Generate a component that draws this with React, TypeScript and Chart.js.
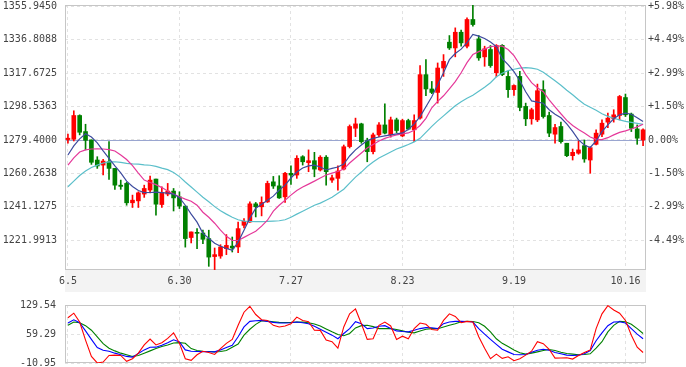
import React, { useEffect, useRef } from 'react';
import { Chart, registerables } from 'chart.js';

Chart.register(...registerables);

// ---------- data ----------
const dates = [
  '6.5','6.6','6.7','6.8','6.9','6.12','6.13','6.14','6.15','6.16','6.19','6.20','6.21','6.22','6.23','6.26','6.27','6.28','6.29','6.30',
  '7.3','7.4','7.5','7.6','7.7','7.10','7.11','7.12','7.13','7.14','7.17','7.18','7.19','7.20','7.21','7.24','7.25','7.26','7.27','7.28','7.31',
  '8.1','8.2','8.3','8.4','8.7','8.8','8.9','8.10','8.11','8.14','8.15','8.16','8.17','8.18','8.21','8.22','8.23','8.24','8.25','8.28','8.29','8.30','8.31',
  '9.1','9.4','9.5','9.6','9.7','9.8','9.11','9.12','9.13','9.14','9.15','9.18','9.19','9.20','9.21','9.22','9.25','9.26','9.27','9.28','9.29',
  '10.2','10.3','10.4','10.5','10.6','10.9','10.10','10.11','10.12','10.13','10.16','10.17','10.18','10.19'
];

const openP = [
  1279.6,1279.8,1293.4,1284.2,1279.4,1267.9,1265.0,1266.9,1263.1,1253.5,
  1254.5,1243.4,1244.5,1248.4,1250.7,1257.0,1242.4,1248.4,1250.1,1246.8,
  1241.5,1223.5,1226.3,1226.1,1222.9,1212.6,1212.9,1217.1,1218.6,1218.1,
  1230.5,1232.4,1242.8,1241.1,1243.9,1255.4,1253.1,1246.8,1260.3,1259.3,
  1269.8,1266.4,1267.5,1262.2,1269.5,1256.4,1257.4,1262.7,1275.6,1286.1,
  1288.6,1279.0,1272.7,1282.3,1288.0,1282.3,1290.9,1281.7,1290.5,1285.2,
  1291.9,1316.8,1308.6,1306.6,1320.6,1335.4,1332.1,1341.1,1333.1,1348.4,
  1337.3,1327.0,1331.2,1317.9,1333.6,1315.8,1308.2,1315.8,1298.6,1291.5,
  1290.9,1308.2,1293.4,1282.7,1287.1,1277.5,1270.4,1271.8,1276.1,1267.9,
  1276.9,1282.7,1289.6,1291.5,1293.4,1303.7,1294.2,1285.7,1279.4
];
const highP = [
  1282.7,1296.1,1293.8,1288.4,1279.4,1269.8,1268.3,1278.4,1263.1,1256.4,
  1255.1,1247.8,1249.7,1253.5,1258.7,1257.0,1252.5,1254.5,1251.6,1249.7,
  1241.5,1226.7,1228.6,1227.7,1227.7,1217.5,1219.4,1225.2,1223.8,1232.4,
  1234.4,1243.9,1243.6,1246.8,1255.8,1258.5,1258.9,1260.8,1264.6,1270.4,
  1270.4,1273.7,1272.3,1270.4,1270.4,1259.3,1264.6,1276.5,1288.0,1291.9,
  1289.0,1280.4,1283.3,1289.4,1300.1,1292.5,1291.9,1291.3,1291.3,1293.8,
  1322.0,1325.4,1312.9,1323.5,1328.3,1339.2,1343.6,1342.3,1349.4,1356.5,
  1339.2,1333.1,1333.5,1334.0,1334.0,1318.7,1311.0,1318.7,1300.5,1297.6,
  1311.4,1313.3,1295.3,1288.4,1289.6,1277.5,1274.2,1278.8,1279.4,1275.5,
  1285.2,1290.9,1294.8,1296.7,1304.9,1305.7,1294.8,1288.0,1285.7
];
const lowP = [
  1277.5,1278.8,1282.3,1273.7,1265.4,1263.1,1259.3,1256.8,1251.1,1251.1,
  1242.0,1240.7,1240.7,1246.5,1249.1,1236.3,1240.7,1247.4,1238.7,1240.1,
  1218.0,1220.4,1217.1,1220.0,1207.0,1204.9,1211.6,1213.7,1215.2,1214.8,
  1229.0,1232.1,1235.3,1235.9,1243.6,1251.6,1245.9,1243.6,1253.9,1257.4,
  1265.0,1261.2,1258.3,1261.6,1253.5,1255.1,1250.7,1262.2,1274.8,1281.3,
  1277.5,1266.9,1271.4,1281.3,1282.9,1281.0,1283.6,1281.3,1285.2,1278.4,
  1291.3,1304.7,1305.9,1300.5,1315.8,1331.2,1327.0,1333.1,1332.1,1344.6,
  1325.0,1321.6,1321.0,1315.5,1316.2,1303.7,1304.9,1296.1,1287.6,1288.4,
  1289.9,1291.9,1281.3,1277.5,1277.5,1269.8,1267.9,1271.2,1266.6,1260.3,
  1276.5,1281.3,1286.5,1289.6,1290.9,1292.8,1284.2,1276.9,1276.1
];
const closeP = [
  1280.4,1293.4,1283.8,1279.2,1266.6,1264.5,1267.3,1263.1,1253.5,1252.8,
  1243.4,1244.9,1249.1,1251.6,1256.4,1242.6,1249.3,1250.1,1246.2,1241.5,
  1222.9,1226.7,1225.9,1222.5,1212.3,1213.7,1218.1,1219.0,1217.5,1228.6,
  1232.8,1242.8,1241.1,1243.6,1254.5,1253.0,1246.2,1260.3,1259.3,1268.9,
  1266.9,1267.5,1262.7,1269.5,1261.2,1257.7,1261.6,1275.5,1287.1,1288.6,
  1278.4,1272.7,1282.3,1288.0,1283.3,1290.9,1284.8,1290.5,1285.6,1290.5,
  1316.8,1308.6,1306.6,1320.6,1324.4,1332.1,1341.1,1335.0,1348.4,1345.5,
  1326.4,1331.6,1322.0,1333.5,1316.8,1308.2,1310.6,1298.0,1291.5,1296.7,
  1307.6,1292.8,1283.3,1286.5,1278.4,1270.4,1272.3,1273.7,1268.5,1275.0,
  1283.3,1289.0,1291.9,1293.8,1304.3,1293.8,1286.1,1280.4,1285.2
];

const ma5 = [
  1270.8,1276.0,1280.0,1282.9,1281.1,1277.7,1273.1,1268.8,1264.5,1260.5,
  1255.8,1252.7,1250.4,1249.2,1249.3,1249.5,1249.2,1248.9,1248.4,1246.3,
  1242.0,1236.9,1232.3,1225.9,1223.1,1220.2,1218.5,1217.3,1216.2,1220.9,
  1227.7,1234.6,1240.3,1242.6,1244.9,1247.2,1250.7,1253.5,1257.6,1261.0,
  1263.3,1264.5,1265.0,1263.9,1262.2,1263.1,1263.9,1265.6,1270.2,1273.7,
  1276.5,1279.1,1280.3,1281.1,1281.7,1282.3,1282.9,1283.4,1285.4,1288.6,
  1292.8,1298.4,1304.1,1311.0,1317.9,1325.4,1328.9,1331.4,1335.2,1339.8,
  1338.9,1337.5,1335.5,1332.9,1326.0,1322.5,1318.5,1313.3,1307.0,1301.8,
  1301.1,1300.4,1296.7,1294.1,1292.1,1288.6,1284.3,1279.4,1276.5,1275.1,
  1278.8,1284.2,1288.0,1291.5,1293.8,1294.8,1294.1,1292.1,1289.9
];
const ma10 = [
  1265.0,1269.1,1272.5,1273.7,1274.2,1274.3,1274.2,1273.9,1273.1,1270.8,
  1268.2,1264.7,1260.4,1256.4,1255.0,1253.8,1252.1,1250.1,1248.4,1246.9,
  1245.5,1244.3,1242.0,1238.0,1235.1,1231.7,1227.7,1224.2,1221.9,1221.8,
  1223.6,1225.4,1227.1,1230.0,1233.4,1238.6,1242.0,1244.9,1247.8,1250.4,
  1252.4,1254.1,1255.8,1257.6,1259.3,1260.4,1261.3,1262.7,1266.2,1269.1,
  1271.9,1274.8,1276.8,1278.8,1280.3,1281.4,1282.3,1282.9,1283.4,1284.9,
  1287.7,1291.8,1297.8,1301.5,1304.7,1308.7,1312.8,1317.9,1323.7,1328.3,
  1330.0,1331.4,1332.9,1333.2,1333.1,1331.2,1327.7,1322.5,1316.8,1312.2,
  1309.3,1307.0,1302.4,1298.4,1294.4,1290.6,1287.7,1285.4,1283.4,1281.1,
  1279.7,1279.6,1280.7,1282.3,1283.7,1284.6,1285.7,1286.9,1288.4
];
const ma20 = [
  1252.6,1255.8,1259.0,1261.6,1263.6,1265.0,1266.2,1266.8,1266.9,1266.6,
  1266.0,1265.7,1265.5,1265.1,1264.9,1264.3,1263.3,1262.4,1260.7,1258.4,
  1255.3,1252.4,1249.5,1246.6,1244.0,1241.2,1238.9,1236.9,1235.1,1233.7,
  1232.9,1232.7,1232.6,1232.6,1232.7,1232.9,1233.1,1233.7,1235.1,1236.9,
  1238.6,1240.3,1242.0,1243.2,1244.9,1246.6,1248.9,1251.2,1254.7,1258.1,
  1261.0,1264.2,1266.8,1269.1,1270.8,1272.5,1274.2,1275.4,1276.8,1278.3,
  1280.3,1283.7,1287.2,1290.3,1293.2,1296.1,1299.0,1301.3,1303.3,1305.0,
  1307.3,1309.6,1312.2,1315.6,1317.6,1319.1,1319.9,1320.5,1320.8,1320.5,
  1319.9,1318.2,1315.8,1313.3,1310.7,1307.9,1305.3,1302.4,1299.8,1298.1,
  1296.4,1294.4,1292.9,1291.8,1290.9,1290.0,1289.5,1288.9,1288.3
];

const jLine = [
  98.6,109.7,88.3,44.6,4.9,-10.9,-8.6,7.3,8.1,7.3,
  -7.0,-0.6,12.9,32.7,47.0,32.7,38.3,48.6,62.1,36.7,
  -0.6,-4.6,8.9,17.6,14.5,9.7,24.0,36.7,46.2,80.3,
  112.1,126.4,106.5,93.8,92.2,80.3,76.4,78.8,84.3,100.2,
  92.2,89.1,68.4,68.0,44.6,40.6,24.8,76.4,108.1,120.0,
  84.3,46.2,47.8,80.3,88.3,78.8,46.2,54.1,47.8,72.4,
  85.9,82.7,70.0,68.4,92.2,108.1,101.8,86.7,89.9,88.3,
  52.5,24.8,-0.6,10.5,0.2,4.1,-5.4,-0.6,8.1,17.6,
  40.6,35.9,22.4,0.9,1.2,1.7,-1.4,7.3,14.5,20.8,
  72.4,108.1,127.9,117.6,109.7,92.2,56.5,27.2,14.5
];
const kLine = [
  85.9,93.8,86.7,66.8,46.2,26.4,20.0,17.6,12.9,8.9,
  5.0,3.3,12.1,20.8,27.2,27.4,31.9,38.3,45.4,39.9,
  20.8,17.5,16.9,16.5,16.3,16.0,20.8,26.4,31.9,52.5,
  76.4,89.9,91.4,92.2,89.9,87.5,85.9,86.1,86.7,88.3,
  86.7,84.3,78.0,70.8,63.7,56.5,47.8,60.5,72.4,89.1,
  84.3,72.4,74.0,78.0,79.5,72.4,66.8,65.2,64.5,68.4,
  72.4,74.8,74.6,72.4,84.3,88.3,89.9,90.1,89.7,88.3,
  72.4,58.9,46.2,34.3,22.4,16.0,9.7,8.9,9.7,15.2,
  20.0,22.4,20.0,14.5,11.3,8.1,7.3,8.1,11.3,19.2,
  43.0,62.1,79.5,88.3,89.1,85.9,72.4,58.9,47.8
];
const dLine = [
  80.3,88.3,86.7,79.5,68.4,52.5,35.9,24.8,18.4,12.9,
  8.9,5.0,7.3,12.9,18.4,24.0,28.8,32.7,37.5,38.3,
  36.7,24.0,19.2,17.6,16.8,16.0,16.8,19.2,27.2,35.1,
  56.5,70.8,82.7,91.4,90.6,89.1,87.5,87.3,87.5,88.3,
  88.1,86.7,83.5,78.8,71.6,64.5,58.1,55.0,60.5,74.0,
  79.5,80.3,77.2,72.4,72.6,72.2,70.0,66.8,63.7,62.1,
  66.8,70.8,72.4,72.2,76.4,80.3,84.3,89.1,89.9,89.7,
  86.7,78.0,64.5,47.8,36.7,28.8,20.8,13.7,10.5,12.9,
  16.0,19.2,21.6,19.2,15.2,12.1,10.5,8.9,9.7,11.3,
  24.8,40.6,64.5,80.3,89.9,89.1,82.7,72.4,60.5
];

const prevClose = 1279.4;
const priceMin = 1204.9;
const priceMax = 1356.7;
const priceTicks = [1221.9913, 1241.1275, 1260.2638, 1279.4, 1298.5363, 1317.6725, 1336.8088, 1355.945];
const priceTickLabels = ['1221.9913', '1241.1275', '1260.2638', '1279.4000', '1298.5363', '1317.6725', '1336.8088', '1355.9450'];
const pctTickLabels = ['-4.49%', '-2.99%', '-1.50%', '0.00%', '+1.50%', '+2.99%', '+4.49%', '+5.98%'];
const xTickDates = ['6.5', '6.30', '7.27', '8.23', '9.19', '10.16'];
const kdjMin = -10.95;
const kdjMax = 129.54;
const kdjTicks = [-10.95, 59.29, 129.54];
const kdjTickLabels = ['-10.95', '59.29', '129.54'];

// ---------- style ----------
const UP = '#ff0000';
const DOWN = '#008000';
const GRID = '#e2e2e2';
const FRAME = '#c6c6c6';
const BASE = '#9aa6d0';
const TEXT = '#444444';
const FONT = { family: 'DejaVu Sans Mono', size: 10 };

const framePlugin = {
  id: 'frame',
  beforeDraw(chart: any, _a: any, opts: any) {
    const { ctx, chartArea: a } = chart;
    if (opts && opts.strip) {
      ctx.save();
      ctx.fillStyle = '#f3f3f3';
      ctx.fillRect(a.left, a.bottom, a.right - a.left, opts.strip);
      ctx.restore();
    }
  },
  beforeDatasetsDraw(chart: any, _a: any, opts: any) {
    const { ctx, chartArea: a } = chart;
    ctx.save();
    if (opts && opts.base !== undefined) {
      const y = Math.round(chart.scales.y.getPixelForValue(opts.base)) + 0.5;
      ctx.strokeStyle = BASE;
      ctx.lineWidth = 1;
      ctx.beginPath();
      ctx.moveTo(a.left, y);
      ctx.lineTo(a.right, y);
      ctx.stroke();
    }
    ctx.strokeStyle = FRAME;
    ctx.lineWidth = 1;
    ctx.strokeRect(a.left + 0.5, a.top + 0.5, a.right - a.left - 1, a.bottom - a.top - 1);
    ctx.restore();
  },
};

const xGridColor = (c: any) => (xTickDates.includes(dates[c.index]) ? GRID : 'rgba(0,0,0,0)');
const fixWidth = (w: number) => (s: any) => {
  s.width = w;
  s.paddingTop = 0;
  s.paddingBottom = 0;
};
const fixHeight = (h: number) => (s: any) => {
  s.height = h;
  s.paddingLeft = 0;
  s.paddingRight = 0;
};

export default function App() {
  const mainRef = useRef<HTMLCanvasElement | null>(null);
  const subRef = useRef<HTMLCanvasElement | null>(null);

  useEffect(() => {
    const colors = dates.map((_, i) => (closeP[i] >= openP[i] ? UP : DOWN));
    const bodies = dates.map((_, i) => [openP[i], closeP[i]]);
    const wicks = dates.map((_, i) => [lowP[i], highP[i]]);

    const main = new Chart(mainRef.current as HTMLCanvasElement, {
      type: 'bar',
      data: {
        labels: dates,
        datasets: [
          { type: 'line', data: ma5, borderColor: '#3d4b9e', borderWidth: 1.2, pointRadius: 0, tension: 0, order: 0 } as any,
          { type: 'line', data: ma10, borderColor: '#e5399a', borderWidth: 1.2, pointRadius: 0, tension: 0, order: 0 } as any,
          { type: 'line', data: ma20, borderColor: '#5bbfca', borderWidth: 1.2, pointRadius: 0, tension: 0, order: 0 } as any,
          { type: 'bar', data: bodies, backgroundColor: colors, borderWidth: 0, barThickness: 4, minBarLength: 1, grouped: false, order: 1 } as any,
          { type: 'bar', data: wicks, backgroundColor: colors, borderWidth: 0, barThickness: 1, grouped: false, order: 2 } as any,
        ],
      },
      options: {
        responsive: false,
        animation: false,
        events: [],
        layout: { padding: { top: 5, bottom: 0, left: 0, right: 0 }, autoPadding: false },
        plugins: {
          legend: { display: false },
          tooltip: { enabled: false },
          frame: { strip: 22, base: prevClose },
        } as any,
        scales: {
          x: {
            offset: true,
            grid: { offset: false, drawTicks: false, color: xGridColor, lineWidth: 1 },
            border: { display: false, dash: [3, 3] },
            ticks: {
              autoSkip: false,
              maxRotation: 0,
              minRotation: 0,
              padding: 5,
              color: TEXT,
              font: FONT,
              callback: (_v: any, i: number) => (xTickDates.includes(dates[i]) ? dates[i] : ''),
            },
            afterFit: fixHeight(26),
          },
          y: {
            position: 'left',
            min: priceMin,
            max: priceMax,
            afterBuildTicks: (s: any) => { s.ticks = priceTicks.map((v) => ({ value: v })); },
            grid: { drawTicks: false, color: GRID, lineWidth: 1 },
            border: { display: false, dash: [3, 3] },
            ticks: { padding: 8, color: TEXT, font: FONT, autoSkip: false, callback: (_v: any, i: number) => priceTickLabels[i] },
            afterFit: fixWidth(65),
          },
          y2: {
            position: 'right',
            min: priceMin,
            max: priceMax,
            afterBuildTicks: (s: any) => { s.ticks = priceTicks.map((v) => ({ value: v })); },
            grid: { display: false, drawTicks: false },
            border: { display: false },
            ticks: { padding: 2, color: TEXT, font: FONT, autoSkip: false, callback: (_v: any, i: number) => pctTickLabels[i] },
            afterFit: fixWidth(40),
          },
        } as any,
      },
      plugins: [framePlugin],
    });

    const sub = new Chart(subRef.current as HTMLCanvasElement, {
      type: 'line',
      data: {
        labels: dates,
        datasets: [
          { data: jLine, borderColor: '#ff0000', borderWidth: 1.1, pointRadius: 0, tension: 0 },
          { data: kLine, borderColor: '#0000ff', borderWidth: 1.1, pointRadius: 0, tension: 0 },
          { data: dLine, borderColor: '#008000', borderWidth: 1.1, pointRadius: 0, tension: 0 },
        ],
      },
      options: {
        responsive: false,
        animation: false,
        events: [],
        layout: { padding: { top: 13, bottom: 4, left: 0, right: 40 }, autoPadding: false },
        plugins: {
          legend: { display: false },
          tooltip: { enabled: false },
          frame: {},
        } as any,
        scales: {
          x: {
            offset: true,
            grid: { offset: false, drawTicks: false, color: xGridColor, lineWidth: 1 },
            border: { display: false, dash: [3, 3] },
            ticks: { display: false, autoSkip: false },
            afterFit: fixHeight(0),
          },
          y: {
            min: kdjMin,
            max: kdjMax,
            afterBuildTicks: (s: any) => { s.ticks = kdjTicks.map((v) => ({ value: v })); },
            grid: { drawTicks: false, color: GRID, lineWidth: 1 },
            border: { display: false, dash: [3, 3] },
            ticks: { padding: 9, color: TEXT, font: FONT, autoSkip: false, callback: (_v: any, i: number) => kdjTickLabels[i] },
            afterFit: fixWidth(65),
          },
        } as any,
      },
      plugins: [framePlugin],
    });

    return () => {
      main.destroy();
      sub.destroy();
    };
  }, []);

  return (
    <div style={{ position: 'absolute', left: 0, top: 0, width: 686, height: 367, background: '#ffffff', overflow: 'hidden' }}>
      <canvas ref={mainRef} width={686} height={296} style={{ position: 'absolute', left: 0, top: 0, width: 686, height: 296 }} />
      <canvas ref={subRef} width={686} height={75} style={{ position: 'absolute', left: 0, top: 292, width: 686, height: 75 }} />
    </div>
  );
}
